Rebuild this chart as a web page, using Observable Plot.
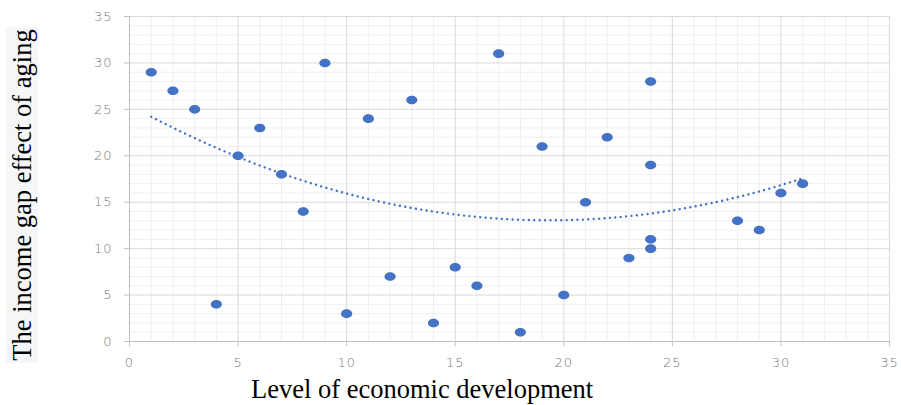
<!DOCTYPE html>
<html>
<head>
<meta charset="utf-8">
<script src="https://cdn.jsdelivr.net/npm/d3@7"></script>
<script src="https://cdn.jsdelivr.net/npm/@observablehq/plot@0.6"></script>
<style>
  html, body { margin: 0; padding: 0; background: #fff; }
  #wrap { position: relative; width: 901px; height: 405px; overflow: hidden; }
  #ytitle {
    position: absolute; left: 6px; top: 27px; width: 32px; height: 336px;
    background: #f5f6f8;
  }
  #ytitle span {
    position: absolute; left: 50%; top: 50%;
    transform: translate(-50%, -50%) rotate(-90deg);
    white-space: nowrap;
    font-family: "Liberation Serif", "Times New Roman", serif;
    font-size: 26.5px; color: #000; line-height: 1;
  }
  #xtitle {
    position: absolute; left: 251px; top: 374px; white-space: nowrap;
    font-family: "Liberation Serif", "Times New Roman", serif;
    font-size: 26.5px; color: #000; line-height: 30px;
  }
</style>
</head>
<body>
<div id="wrap">
  <div id="chart"></div>
  <div id="ytitle"><span>The income gap effect of aging</span></div>
  <div id="xtitle">Level of economic development</div>
</div>
<script>
// Data
const development = [1, 2, 3, 4, 5, 6, 7, 8, 9, 10, 11, 12, 13, 14, 15, 16, 17, 18, 19, 20, 21, 22, 23, 24, 24, 24, 24, 28, 29, 30, 31];
const incomeGap   = [29, 27, 25, 4, 20, 23, 18, 14, 30, 3, 24, 7, 26, 2, 8, 6, 31, 1, 21, 5, 15, 22, 9, 28, 19, 11, 10, 13, 12, 16, 17];
const xTicks = [0, 5, 10, 15, 20, 25, 30, 35];
const yTicks = [0, 5, 10, 15, 20, 25, 30, 35];

const points = development.map((x, i) => ({x, y: incomeGap[i]}));

// Polynomial (order 2) trendline by least squares, as in the original chart
function quadFit(xs, ys) {
  let s = [0,0,0,0,0], t = [0,0,0];
  xs.forEach((x, i) => {
    const y = ys[i];
    for (let k = 0; k < 5; k++) s[k] += Math.pow(x, k);
    for (let k = 0; k < 3; k++) t[k] += y * Math.pow(x, k);
  });
  const A = [[s[0], s[1], s[2], t[0]], [s[1], s[2], s[3], t[1]], [s[2], s[3], s[4], t[2]]];
  for (let i = 0; i < 3; i++) {
    for (let j = i + 1; j < 3; j++) {
      const f = A[j][i] / A[i][i];
      for (let k = i; k < 4; k++) A[j][k] -= f * A[i][k];
    }
  }
  const c = [0,0,0];
  for (let i = 2; i >= 0; i--) {
    let v = A[i][3];
    for (let k = i + 1; k < 3; k++) v -= A[i][k] * c[k];
    c[i] = v / A[i][i];
  }
  return c;
}
const coef = quadFit(development, incomeGap);
const xMin = d3.min(development), xMax = d3.max(development);
const trend = d3.range(0, 121).map(i => {
  const x = xMin + (xMax - xMin) * i / 120;
  return {x, y: coef[0] + coef[1] * x + coef[2] * x * x};
});

const xMinor = d3.range(0, 36).filter(v => v % 5 !== 0);
const yMinor = d3.range(0, 36).filter(v => v % 5 !== 0);

const ellipse = {
  draw(ctx) {
    const rx = 5.6, ry = 4.3, k = 0.5523;
    ctx.moveTo(rx, 0);
    ctx.bezierCurveTo(rx, ry * k, rx * k, ry, 0, ry);
    ctx.bezierCurveTo(-rx * k, ry, -rx, ry * k, -rx, 0);
    ctx.bezierCurveTo(-rx, -ry * k, -rx * k, -ry, 0, -ry);
    ctx.bezierCurveTo(rx * k, -ry, rx, -ry * k, rx, 0);
    ctx.closePath();
  }
};

const tickFont = {fontFamily: "DejaVu Sans", fontWeight: 200, fontSize: 13};

const chart = Plot.plot({
  width: 901,
  height: 405,
  marginLeft: 129,
  marginRight: 12,
  marginTop: 16,
  marginBottom: 64,
  style: {background: "transparent", fontFamily: "DejaVu Sans", fontSize: "13px"},
  x: {domain: [0, 35], axis: null},
  y: {domain: [0, 35], axis: null},
  marks: [
    Plot.ruleX(xMinor, {stroke: "#efefef", strokeWidth: 1}),
    Plot.ruleY(yMinor, {stroke: "#efefef", strokeWidth: 1}),
    Plot.ruleX(xTicks.filter(v => v > 0), {stroke: "#d9d9d9", strokeWidth: 1}),
    Plot.ruleY(yTicks.filter(v => v > 0), {stroke: "#d9d9d9", strokeWidth: 1}),
    Plot.ruleX([0], {stroke: "#bfbfbf", strokeWidth: 1}),
    Plot.ruleY([0], {stroke: "#bfbfbf", strokeWidth: 1}),
    Plot.axisX({ticks: xTicks, tickSize: 5, tickPadding: 11, stroke: "#bfbfbf", fill: "#7a7a7a", label: null, tickFormat: d => d, ...tickFont}),
    Plot.axisY({ticks: yTicks, tickSize: 5, tickPadding: 12, stroke: "#bfbfbf", fill: "#7a7a7a", label: null, tickFormat: d => d, ...tickFont}),
    Plot.line(trend, {x: "x", y: "y", stroke: "#4472c4", strokeWidth: 2.4, strokeDasharray: "0.01,5.4", strokeLinecap: "round", curve: "linear"}),
    Plot.dot(points, {x: "x", y: "y", symbol: ellipse, fill: "#4472c4", stroke: "none", r: 5})
  ]
});
chart.querySelectorAll("text").forEach(t => t.setAttribute("letter-spacing", "1"));
document.getElementById("chart").appendChild(chart);
</script>
</body>
</html>
